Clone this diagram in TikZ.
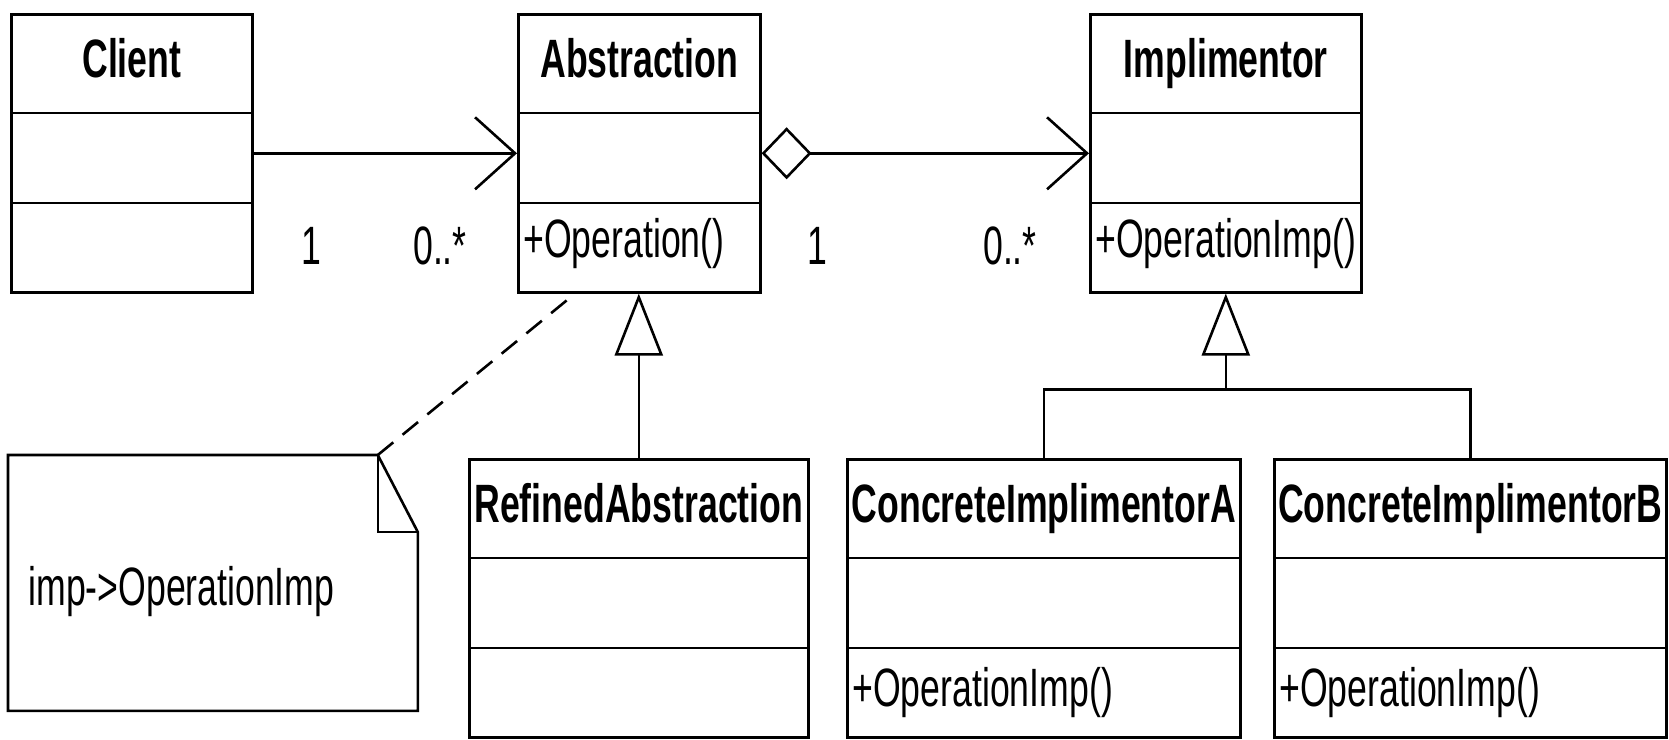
\documentclass[tikz,border=0pt]{standalone}
\usepackage{fontspec}
\setmainfont{Liberation Sans}[FakeStretch=0.66]
\usetikzlibrary{arrows.meta}

\begin{document}
\begin{tikzpicture}[x=0.5pt, y=-0.5pt,
        font=\fontsize{27}{30}\selectfont,
        classbox/.style={draw, line width=1.3pt, inner sep=0pt, anchor=north west, minimum height=139pt},
        classname/.style={anchor=base, inner sep=0pt, font=\fontsize{27}{30}\selectfont\bfseries},
        member/.style={anchor=base west, inner sep=0pt},
        mult/.style={anchor=base, inner sep=0pt},
        link/.style={line width=1.3pt},
        assoc/.style={link, -{Straight Barb[length=20pt, width=36pt]}},
        aggr/.style={link, {Diamond[open, length=25pt, width=26pt]}-{Straight Barb[length=20pt, width=36pt]}},
        gen/.style={link, -{Triangle[open, length=31pt, width=24pt]}},
        notelink/.style={link, dash pattern=on 10pt off 6pt}]

    \useasboundingbox (0,0) rectangle (1669,739);

    % classes, top row
    \node[classbox, minimum width=120.5pt] (cl)   at (10,13)   {};
    \node[classbox, minimum width=121pt]   (abs)  at (517,13)  {};
    \node[classbox, minimum width=135.5pt] (impl) at (1089,13) {};

    % classes, bottom row
    \node[classbox, minimum width=169.5pt] (ref) at (468,458)  {};
    \node[classbox, minimum width=196.5pt] (cia) at (846,458)  {};
    \node[classbox, minimum width=196pt]   (cib) at (1273,458) {};

    % compartments
    \foreach \c in {cl, abs, impl, ref, cia, cib} {
        \draw[link] ([yshift=-50pt]\c.north west) -- ([yshift=-50pt]\c.north east);
        \draw[link] ([yshift=-95pt]\c.north west) -- ([yshift=-95pt]\c.north east);
    }

    \node[classname] (cl-name)   at ([yshift=-32pt]cl.north)   {Client};
    \node[classname] (abs-name)  at ([yshift=-32pt]abs.north)  {Abstraction};
    \node[classname] (impl-name) at ([yshift=-32pt]impl.north) {Implimentor};
    \node[classname] (ref-name)  at ([yshift=-32pt]ref.north)  {RefinedAbstraction};
    \node[classname] (cia-name)  at ([yshift=-32pt]cia.north)  {ConcreteImplimentorA};
    \node[classname] (cib-name)  at ([yshift=-32pt]cib.north)  {ConcreteImplimentorB};

    \node[member] (abs-op)  at ([xshift=3pt, yshift=-122pt]abs.north west)  {+Operation()};
    \node[member] (impl-op) at ([xshift=3pt, yshift=-122pt]impl.north west) {+OperationImp()};
    \node[member] (cia-op)  at ([xshift=3pt, yshift=-124pt]cia.north west)  {+OperationImp()};
    \node[member] (cib-op)  at ([xshift=3pt, yshift=-124pt]cib.north west)  {+OperationImp()};

    % note
    \node[anchor=north west, inner xsep=10pt, inner ysep=0pt, text width=184.5pt,
          text height=28pt, text depth=5.5pt,
          align=left, minimum height=127.5pt] (note) at (8,455) {imp->OperationImp};
    \draw[link] (note.north west) -- ([xshift=-20pt]note.north east)
        -- ([yshift=-38.5pt]note.north east) -- (note.south east) -- (note.south west) -- cycle;
    \draw[link] ([xshift=-20pt]note.north east) |- ([yshift=-38.5pt]note.north east);

    % associations
    \draw[assoc] (cl.east) -- (abs.west);
    \draw[aggr] (abs.east) -- (impl.west);

    \node[mult] (m1) at (311,264)  {1};
    \node[mult] (m2) at (440,264)  {0..*};
    \node[mult] (m3) at (817,264)  {1};
    \node[mult] (m4) at (1010,264) {0..*};

    % generalizations
    \draw[gen] (ref.north) -- (ref.north |- abs.south);
    \coordinate (split) at ([yshift=-48pt]impl.south);
    \draw[link] (cia.north) |- (split) -| (cib.north);
    \draw[gen] (split) -- (impl.south);

    % note link
    \draw[notelink] ([xshift=-20pt]note.north east) -- ([xshift=29pt]abs.south west);

\end{tikzpicture}
\end{document}
